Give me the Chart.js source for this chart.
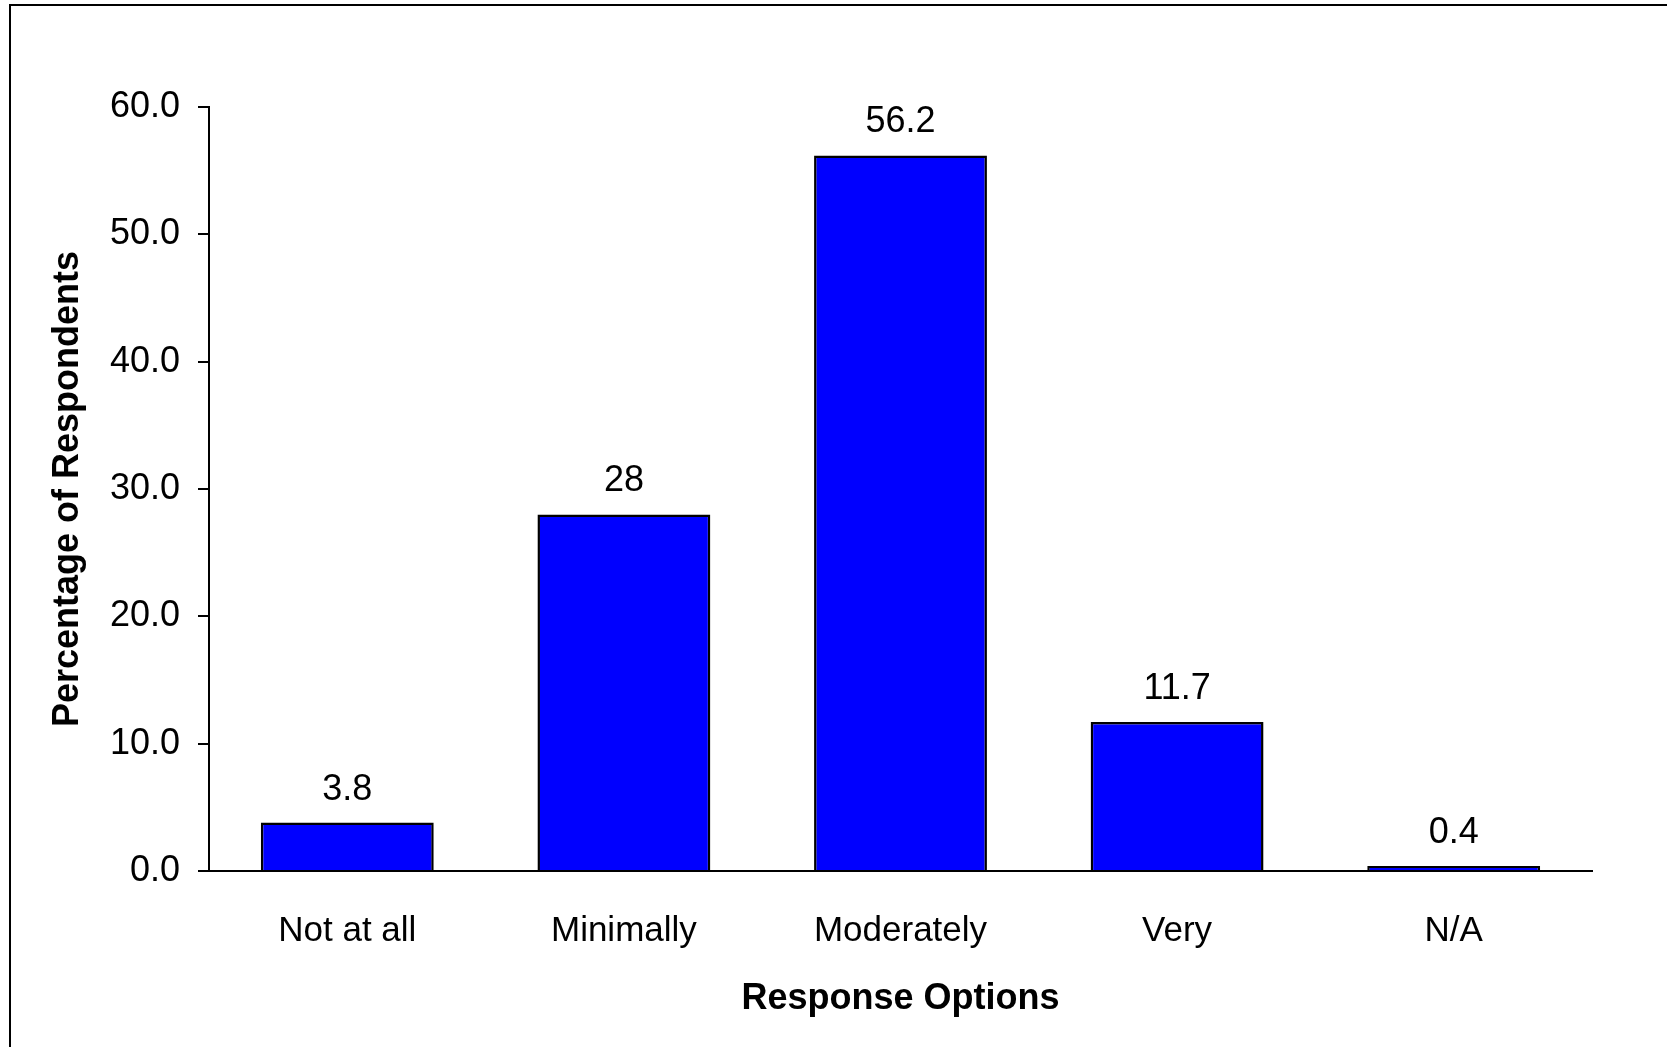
<!DOCTYPE html>
<html>
<head>
<meta charset="utf-8">
<script src="https://cdn.jsdelivr.net/npm/chart.js@4/dist/chart.umd.min.js"></script>
<style>
  html, body { margin: 0; padding: 0; background: #fff; overflow: hidden; }
  #wrap { position: relative; width: 1667px; height: 1047px; }
  #frame {
    position: absolute; left: 9px; top: 4px; width: 1700px; height: 1100px;
    border-left: 2px solid #000; border-top: 2px solid #000;
  }
  #chart { position: absolute; left: 0; top: 0; }
</style>
</head>
<body>
<div id="wrap">
  <div id="frame"></div>
  <canvas id="chart" width="1667" height="1047"></canvas>
</div>
<script>
// Chart data
const categories = ['Not at all', 'Minimally', 'Moderately', 'Very', 'N/A'];
const percentages = [3.8, 28, 56.2, 11.7, 0.4];
const yTicks = [0, 10, 20, 30, 40, 50, 60];

const FONT = '"Liberation Sans", Arial, sans-serif';

// Draw the value above each bar
const valueLabels = {
    id: 'valueLabels',
    afterDatasetsDraw(chart) {
        const ctx = chart.ctx;
        const meta = chart.getDatasetMeta(0);
        ctx.save();
        ctx.font = '36px ' + FONT;
        ctx.fillStyle = '#000';
        ctx.textAlign = 'center';
        ctx.textBaseline = 'alphabetic';
        meta.data.forEach((bar, i) => {
            ctx.fillText(String(percentages[i]), bar.x, bar.y - 23);
        });
        ctx.restore();
    }
};

document.addEventListener('DOMContentLoaded', function() {
    const ctx = document.getElementById('chart').getContext('2d');
    new Chart(ctx, {
        type: 'bar',
        data: {
            labels: categories,
            datasets: [{
                data: percentages,
                backgroundColor: '#0000FF',
                borderColor: '#000',
                borderWidth: 2.5,
                barPercentage: 0.625,
                categoryPercentage: 1
            }]
        },
        options: {
            responsive: false,
            devicePixelRatio: 1,
            animation: false,
            layout: { padding: { left: 0, right: 75, top: 107, bottom: 0 } },
            plugins: {
                legend: { display: false },
                tooltip: { enabled: false }
            },
            scales: {
                x: {
                    afterFit(scale) { scale.height = 176; },
                    grid: { drawOnChartArea: false, drawTicks: false },
                    border: { display: true, color: '#000', width: 2 },
                    ticks: {
                        color: '#000',
                        padding: 39,
                        font: { family: FONT, size: 35 }
                    },
                    title: {
                        display: true,
                        text: 'Response Options',
                        color: '#000',
                        font: { family: FONT, size: 36, weight: 'bold' },
                        padding: { top: 0, bottom: 26 }
                    }
                },
                y: {
                    min: yTicks[0],
                    max: yTicks[yTicks.length - 1],
                    afterFit(scale) { scale.width = 209; },
                    afterBuildTicks(scale) {
                        scale.ticks = yTicks.map(v => ({ value: v }));
                    },
                    grid: {
                        drawOnChartArea: false,
                        drawTicks: true,
                        tickLength: 11,
                        color: '#000',
                        lineWidth: 2
                    },
                    border: { display: true, color: '#000', width: 2 },
                    ticks: {
                        color: '#000',
                        padding: 18,
                        font: { family: FONT, size: 36 },
                        callback: v => Number(v).toFixed(1)
                    },
                    title: {
                        display: true,
                        text: 'Percentage of Respondents',
                        color: '#000',
                        font: { family: FONT, size: 36, weight: 'bold' },
                        padding: { top: 46, bottom: 0 }
                    }
                }
            }
        },
        plugins: [valueLabels]
    });
});
</script>
</body>
</html>
